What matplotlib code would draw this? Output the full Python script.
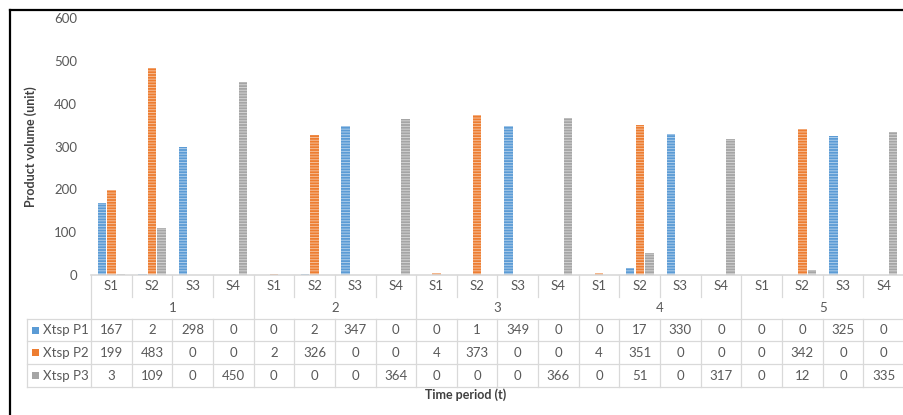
import matplotlib
matplotlib.use("Agg")
import matplotlib.pyplot as plt
import matplotlib.transforms as mtransforms
from matplotlib.lines import Line2D
from matplotlib.patches import Rectangle
import numpy as np

periods = ["1", "2", "3", "4", "5"]
stages = ["S1", "S2", "S3", "S4"]
series_names = ["Xtsp P1", "Xtsp P2", "Xtsp P3"]
p1 = [167, 2, 298, 0, 0, 2, 347, 0, 0, 1, 349, 0, 0, 17, 330, 0, 0, 0, 325, 0]
p2 = [199, 483, 0, 0, 2, 326, 0, 0, 4, 373, 0, 0, 4, 351, 0, 0, 0, 342, 0, 0]
p3 = [3, 109, 0, 450, 0, 0, 0, 364, 0, 0, 0, 366, 0, 51, 0, 317, 0, 12, 0, 335]
colors = ["#5b9bd5", "#ed7d31", "#a5a5a5"]
yticks = [0, 100, 200, 300, 400, 500, 600]

plt.rcParams['font.family'] = ['Lato', 'DejaVu Sans']
plt.rcParams['hatch.linewidth'] = 0.7

W, H = 904, 415
fig = plt.figure(figsize=(W / 100, H / 100), dpi=100)

# pixel transform (origin top-left)
px = mtransforms.Affine2D().scale(1 / W, -1 / H).translate(0, 1) + fig.transFigure

ax_left, ax_right, ax_bottom, ax_top = 91, 904, 275, 18
ax = fig.add_axes([ax_left / W, (H - ax_bottom) / H, (ax_right - ax_left) / W,
                   (ax_bottom - ax_top) / H])

n = len(p1)
x = np.arange(n)
offs = [-0.235, 0.0, 0.235]
width = 0.21
for vals, c, o in zip([p1, p2, p3], colors, offs):
    ax.bar(x + o, vals, width=width, color=c, edgecolor=(1, 1, 1, 0.5),
           hatch='------', linewidth=0.0, zorder=2)

ax.set_xlim(-0.5, n - 0.5)
ax.set_ylim(0, 600)
ax.set_yticks(yticks)
ax.set_yticklabels([str(t) for t in yticks], color="#595959", fontsize=9.5)
ax.tick_params(axis='y', length=0, pad=10)
ax.set_xticks([])
for s in ["top", "right", "left"]:
    ax.spines[s].set_visible(False)
ax.spines["bottom"].set_color("#d9d9d9")
ax.spines["bottom"].set_linewidth(1.2)

ax.set_ylabel("Product volume (unit)", fontsize=9, fontweight='bold', color="#404040")
ax.yaxis.set_label_coords(-54 / (ax_right - ax_left), 0.5)

# ---- data table below the axis ----
slot = (ax_right - ax_left) / n
gc = "#d9d9d9"
tc = "#595959"

def hline(y, x0, x1):
    fig.add_artist(Line2D([x0, x1], [y, y], transform=px, color=gc, lw=0.9))

def vline(xp, y0, y1):
    fig.add_artist(Line2D([xp, xp], [y0, y1], transform=px, color=gc, lw=0.9))

y_axis = 275
y_srow_end = 297
y_data = [319, 341, 364, 387]

for i in range(n + 1):
    xp = ax_left + i * slot
    if i % 4 == 0:
        vline(xp, y_axis, y_data[-1])
    else:
        vline(xp, y_axis, y_srow_end)
        vline(xp, y_data[0], y_data[-1])

for yy in y_data:
    hline(yy, 27, W)
vline(27, y_data[0], y_data[-1])

fs = 9.5
# stage labels
for i in range(n):
    xc = ax_left + (i + 0.5) * slot
    fig.text(xc, 286, stages[i % 4], transform=px, ha='center', va='center',
             fontsize=fs, color=tc)
# period labels
for g, lab in enumerate(periods):
    xc = ax_left + (g * 4 + 2) * slot
    fig.text(xc, 308, lab, transform=px, ha='center', va='center',
             fontsize=fs, color=tc)
# data rows
for r, (vals, name, c) in enumerate(zip([p1, p2, p3], series_names, colors)):
    yc = (y_data[r] + y_data[r + 1]) / 2
    fig.add_artist(Rectangle((32, yc - 3.5), 7, 7, transform=px, color=c, lw=0))
    fig.text(43, yc, name, transform=px, ha='left', va='center', fontsize=fs, color=tc)
    for i, v in enumerate(vals):
        xc = ax_left + (i + 0.5) * slot
        fig.text(xc, yc, str(v), transform=px, ha='center', va='center',
                 fontsize=fs, color=tc)

fig.text((27 + W) / 2, 395, "Time period (t)", transform=px, ha='center', va='center',
         fontsize=9, fontweight='bold', color="#404040")

# outer black frame (left and top)
fig.add_artist(Line2D([10, 10], [10, H], transform=px, color='black', lw=1.6))
fig.add_artist(Line2D([10, W], [10, 10], transform=px, color='black', lw=1.6))

fig.savefig("out.png", dpi=100)
